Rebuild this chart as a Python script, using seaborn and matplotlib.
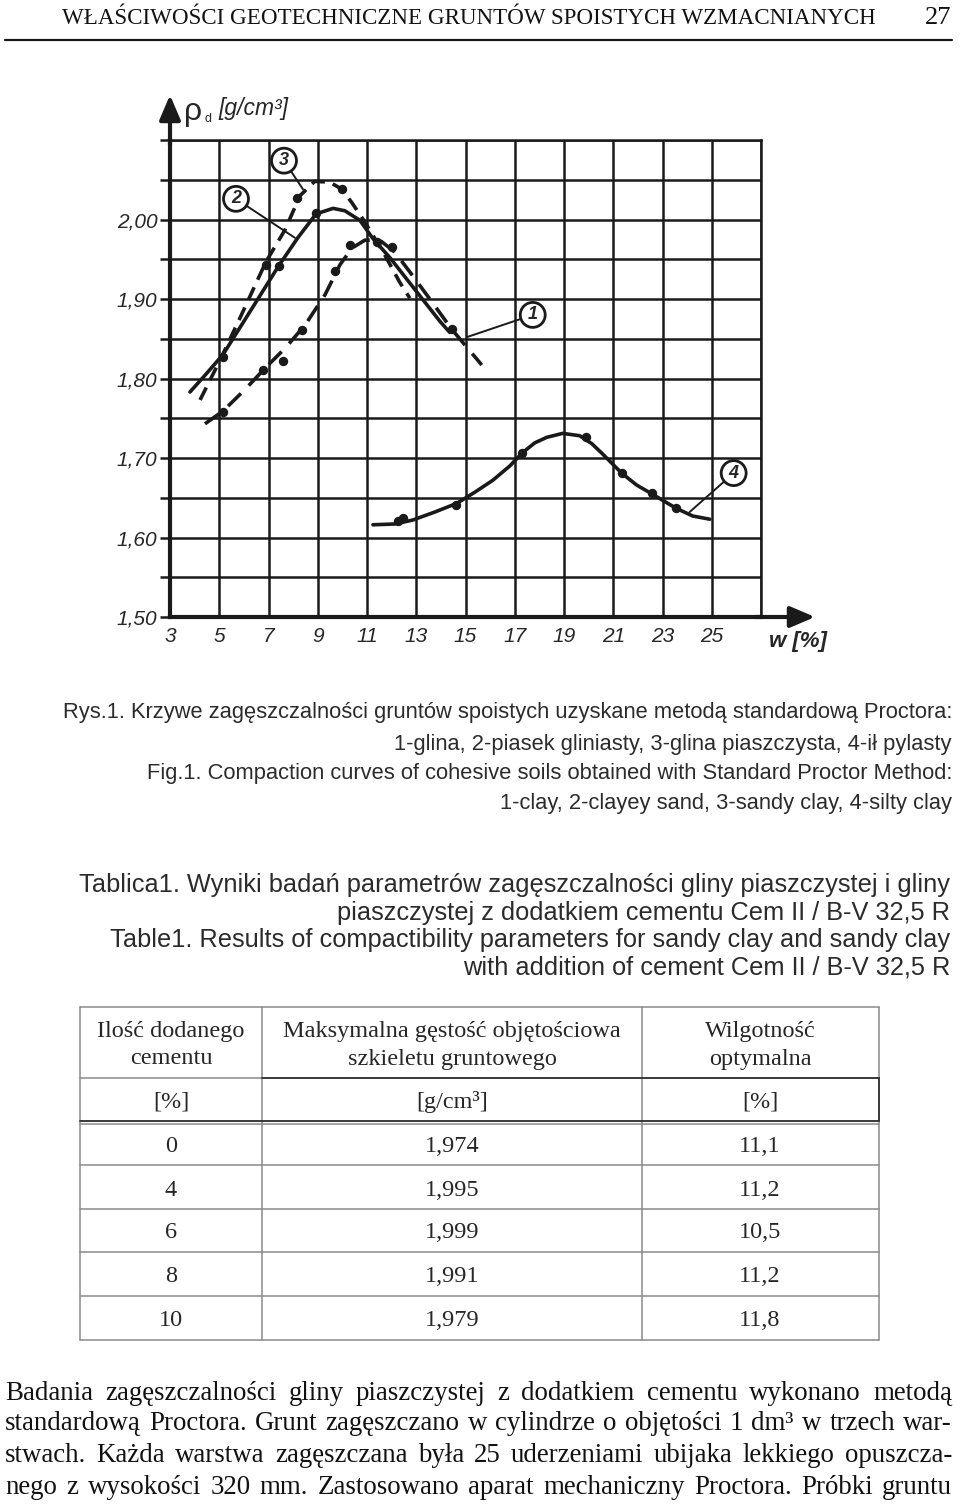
import matplotlib
matplotlib.use("Agg")
import matplotlib.pyplot as plt
import seaborn as sns
from matplotlib import font_manager
from matplotlib.lines import Line2D

# ---------------- data ----------------
w_ticks = [3, 5, 7, 9, 11, 13, 15, 17, 19, 21, 23, 25, 27]
w_tick_labels = ["3", "5", "7", "9", "11", "13", "15", "17", "19", "21", "23", "25", ""]
rho_ticks = [1.50, 1.55, 1.60, 1.65, 1.70, 1.75, 1.80, 1.85, 1.90, 1.95, 2.00, 2.05, 2.10]
rho_tick_labels = ["1,50", "", "1,60", "", "1,70", "", "1,80", "", "1,90", "", "2,00", "", ""]

# curve 1 - glina (long dashes)
c1_line_w = [4.42, 5.15, 6.04, 6.86, 7.67, 8.48, 9.29, 9.90, 10.39, 10.91, 11.52, 12.13, 12.74, 13.55, 14.44, 15.66]
c1_line_rho = [1.743, 1.759, 1.786, 1.813, 1.838, 1.867, 1.905, 1.943, 1.964, 1.974, 1.974, 1.959, 1.934, 1.900, 1.862, 1.817]
c1_pts_w = [5.15, 6.77, 7.59, 8.36, 9.70, 10.31, 12.01, 14.44]
c1_pts_rho = [1.758, 1.811, 1.822, 1.861, 1.935, 1.968, 1.965, 1.862]
# curve 2 - piasek gliniasty (solid)
c2_line_w = [3.81, 4.42, 5.15, 5.84, 6.65, 7.42, 8.19, 8.93, 9.62, 10.10, 10.71, 11.24, 11.93, 12.74, 13.96, 14.36]
c2_line_rho = [1.783, 1.804, 1.830, 1.864, 1.904, 1.942, 1.977, 2.007, 2.014, 2.011, 1.999, 1.976, 1.952, 1.920, 1.872, 1.858]
c2_pts_w = [5.15, 7.42, 8.93, 11.40]
c2_pts_rho = [1.827, 1.942, 2.008, 1.972]
# curve 3 - glina piaszczysta (dashes)
c3_line_w = [4.22, 5.03, 5.84, 6.90, 7.67, 8.28, 8.88, 9.49, 9.98, 10.39, 10.91, 11.73, 12.33, 12.74]
c3_line_rho = [1.773, 1.823, 1.876, 1.947, 1.987, 2.030, 2.048, 2.047, 2.038, 2.021, 1.997, 1.955, 1.921, 1.901]
c3_pts_w = [6.90, 8.15, 9.98]
c3_pts_rho = [1.943, 2.027, 2.038]
# curve 4 - ił pylasty (solid)
c4_line_w = [11.24, 12.13, 12.86, 13.75, 14.65, 15.38, 16.11, 16.80, 17.29, 17.81, 18.30, 18.95, 19.64,
             20.13, 20.57, 21.34, 21.95, 22.56, 23.54, 24.23, 24.92]
c4_line_rho = [1.616, 1.617, 1.622, 1.632, 1.643, 1.657, 1.672, 1.690, 1.706, 1.719, 1.726, 1.731, 1.728,
               1.718, 1.705, 1.681, 1.666, 1.655, 1.637, 1.627, 1.623]
c4_pts_w = [12.25, 12.46, 14.61, 17.29, 19.88, 21.34, 22.56, 23.54]
c4_pts_rho = [1.621, 1.625, 1.641, 1.706, 1.726, 1.681, 1.656, 1.637]

curve_ids = ["1", "2", "3", "4"]
label_w = [17.73, 5.68, 7.63, 25.89]
label_rho = [1.880, 2.026, 2.074, 1.681]
leader_w = [15.05, 8.07, 8.40, 24.10]
leader_rho = [1.852, 1.977, 2.038, 1.632]

# table
tab_head1 = ["Ilość dodanego", "Maksymalna gęstość objętościowa", "Wilgotność"]
tab_head2 = ["cementu", "szkieletu gruntowego", "optymalna"]
tab_units = ["[%]", "[g/cm³]", "[%]"]
cement = ["0", "4", "6", "8", "10"]
rho_max = ["1,974", "1,995", "1,999", "1,991", "1,979"]
w_opt = ["11,1", "11,2", "10,5", "11,2", "11,8"]

header_text = "WŁAŚCIWOŚCI GEOTECHNICZNE GRUNTÓW SPOISTYCH WZMACNIANYCH"
page_no = "27"
caption_fig = ["Rys.1. Krzywe zagęszczalności gruntów spoistych uzyskane metodą standardową Proctora:",
               "1-glina, 2-piasek gliniasty, 3-glina piaszczysta, 4-ił pylasty",
               "Fig.1. Compaction curves of cohesive soils obtained with Standard Proctor Method:",
               "1-clay, 2-clayey sand, 3-sandy clay, 4-silty clay"]
caption_tab = ["Tablica1. Wyniki badań parametrów zagęszczalności gliny piaszczystej i gliny",
               "piaszczystej z dodatkiem cementu Cem II / B-V 32,5 R",
               "Table1. Results of compactibility parameters for sandy clay and sandy clay",
               "with addition of cement Cem II / B-V 32,5 R"]
paragraph = ["Badania zagęszczalności gliny piaszczystej z dodatkiem cementu wykonano metodą",
             "standardową Proctora. Grunt zagęszczano w cylindrze o objętości 1 dm³ w trzech war-",
             "stwach. Każda warstwa zagęszczana była 25 uderzeniami ubijaka lekkiego opuszcza-",
             "nego z wysokości 320 mm. Zastosowano aparat mechaniczny Proctora. Próbki gruntu"]

# ---------------- style ----------------
sns.set_theme(style="white")
names = {f.name for f in font_manager.fontManager.ttflist}
NARROW = "Liberation Sans Narrow" in names
SANS = "Liberation Sans Narrow" if NARROW else "Liberation Sans"
SERIF = "Liberation Serif"
plt.rcParams["font.family"] = [SANS, "DejaVu Sans"]
plt.rcParams["lines.scale_dashes"] = False

W, H = 960, 1509
fig = plt.figure(figsize=(W / 100, H / 100), dpi=100)
fig.patch.set_facecolor("white")
R = fig.canvas.get_renderer()


def P(x, y):
    return x / W, 1 - y / H


def tw(s, **kw):
    t = fig.text(0, 0, s, **kw)
    w = t.get_window_extent(renderer=R).width
    t.remove()
    return w


def fit(s, target, **kw):
    return 10 * target / tw(s, fontsize=10, **kw)


# ---------------- chart ----------------
ax = fig.add_axes([170 / W, 1 - 617 / H, 591 / W, 477 / H])
ax.set_xlim(3, 27)
ax.set_ylim(1.5, 2.1)
ax.set_facecolor("white")

GLW = 1.8
ax.set_axisbelow(True)
ax.grid(True, color="k", lw=GLW)
for s in ["top", "right"]:
    ax.spines[s].set_linewidth(GLW)
    ax.spines[s].set_color("k")
for s in ["left", "bottom"]:
    ax.spines[s].set_linewidth(3.0)
    ax.spines[s].set_color("k")

lw_c = 2.6
sns.lineplot(x=c2_line_w, y=c2_line_rho, ax=ax, color="k", lw=lw_c, sort=False, estimator=None, zorder=3)
sns.lineplot(x=c4_line_w, y=c4_line_rho, ax=ax, color="k", lw=lw_c, sort=False, estimator=None, zorder=3)
sns.lineplot(x=c3_line_w, y=c3_line_rho, ax=ax, color="k", lw=lw_c, sort=False, estimator=None,
             linestyle=(0, (10, 6)), zorder=3)
sns.lineplot(x=c1_line_w, y=c1_line_rho, ax=ax, color="k", lw=lw_c, sort=False, estimator=None,
             linestyle=(0, (13, 8)), zorder=3)
for xs, ys in [(c1_pts_w, c1_pts_rho), (c2_pts_w, c2_pts_rho), (c3_pts_w, c3_pts_rho), (c4_pts_w, c4_pts_rho)]:
    sns.scatterplot(x=xs, y=ys, ax=ax, color="k", s=46, edgecolor="k", linewidth=0, zorder=4)

fs_tick = 15
ax.set_xticks(w_ticks)
ax.set_xticklabels(w_tick_labels, fontsize=fs_tick, style="italic", family=SANS)
ax.set_yticks(rho_ticks)
ax.set_yticklabels(rho_tick_labels, fontsize=fs_tick, style="italic", family=SANS)
ax.tick_params(axis="y", left=True, length=7.5, width=GLW, direction="out", pad=1.5, color="k")
ax.tick_params(axis="x", bottom=True, length=0, pad=7)
ax.set_xlabel("")
ax.set_ylabel("")

arrow_kw = dict(arrowstyle="-|>,head_length=0.75,head_width=0.32", color="k", lw=3.0,
                shrinkA=0, shrinkB=0, mutation_scale=20)
ax.annotate("", xy=(0, 1 + 45 / 477), xycoords="axes fraction", xytext=(0, 0.99),
            arrowprops=arrow_kw, annotation_clip=False)
ax.annotate("", xy=(1 + 54 / 591, 0), xycoords="axes fraction", xytext=(0.99, 0),
            arrowprops=arrow_kw, annotation_clip=False)

for cid, lx, ly, ex, ey in zip(curve_ids, label_w, label_rho, leader_w, leader_rho):
    ax.annotate(cid, xy=(ex, ey), xytext=(lx, ly), ha="center", va="center",
                fontsize=13, fontweight="bold", style="italic", family=SANS,
                bbox=dict(boxstyle="circle,pad=0.22", fc="white", ec="k", lw=2.0),
                arrowprops=dict(arrowstyle="-", color="k", lw=1.4, shrinkA=0, shrinkB=0),
                annotation_clip=False, zorder=6)

# axis titles
fig.text(*P(193, 112), "ρ", fontsize=23, family="Liberation Sans", ha="center", va="center")
fig.text(*P(208, 119), "d", fontsize=9, family=SANS, ha="center", va="center")
fig.text(*P(218, 108), "[g/cm³]", fontsize=16.5, family=SANS, style="italic", ha="left", va="center")
fig.text(*P(798, 641), "w [%]", fontsize=16, family=SANS, style="italic", fontweight="bold",
         ha="center", va="center")

# ---------------- header ----------------
fs_head = fit(header_text, 813, family=SERIF)
fig.text(*P(62, 18), header_text, fontsize=fs_head, family=SERIF, ha="left", va="center", color="#111111")
fig.text(*P(951, 18), page_no, fontsize=fs_head * 1.15, family=SERIF, ha="right", va="center", color="#111111")
fig.add_artist(Line2D([5 / W, 952 / W], [1 - 40 / H, 1 - 40 / H], color="k", lw=1.6))

# ---------------- captions ----------------
CAP_COL = "#2b2b2b"
fs_cap1 = fit(caption_fig[0], 890, family=SANS)
for s, y in zip(caption_fig, [713, 744, 773, 803]):
    fig.text(*P(952, y), s, fontsize=fs_cap1, family=SANS, ha="right", va="center", color=CAP_COL)
fs_cap2 = fit(caption_tab[0], 870, family=SANS)
for s, y in zip(caption_tab, [885, 913, 940, 968]):
    fig.text(*P(950, y), s, fontsize=fs_cap2, family=SANS, ha="right", va="center", color=CAP_COL)

# ---------------- table ----------------
GRAY = "#8a8a8a"
xl, xc1, xc2, xr = 80, 262, 642, 879
row_y = [1007, 1078, 1121, 1165, 1209, 1252, 1296, 1340]


def hline(x0, x1, y, color=GRAY, lw=1.1):
    fig.add_artist(Line2D([x0 / W, x1 / W], [1 - y / H, 1 - y / H], color=color, lw=lw))


def vline(x, y0, y1, color=GRAY, lw=1.1):
    fig.add_artist(Line2D([x / W, x / W], [1 - y0 / H, 1 - y1 / H], color=color, lw=lw))


for y in row_y:
    hline(xl, xr, y)
hline(xl, xr, 1124)
for x in [xl, xc1, xc2, xr]:
    vline(x, row_y[0], row_y[-1])
hline(xc1, xr, 1078, color="#333333", lw=1.3)
hline(xl, xr, 1121, color="#333333", lw=1.3)
vline(xr, 1078, 1121, color="#333333", lw=1.3)

fs_tab = fit(tab_head1[1], 336, family=SERIF)
centers = [171, 452, 760]
for j in range(3):
    fig.text(*P(centers[j], 1031), tab_head1[j], fontsize=fs_tab, family=SERIF, ha="center", va="center")
    fig.text(*P(centers[j], 1059), tab_head2[j], fontsize=fs_tab, family=SERIF, ha="center", va="center")
    fig.text(*P(centers[j], 1102), tab_units[j], fontsize=fs_tab, family=SERIF, ha="center", va="center")
for i, y in enumerate([1146, 1190, 1233, 1277, 1320]):
    for j, col in enumerate([cement, rho_max, w_opt]):
        fig.text(*P(centers[j], y), col[i], fontsize=fs_tab, family=SERIF, ha="center", va="center")

# ---------------- paragraph (justified) ----------------
x0, x1 = 5, 952
fs_par = min(fit(s, x1 - x0, family=SERIF) for s in paragraph) * 0.985
for s, y in zip(paragraph, [1393, 1424, 1455, 1487]):
    words = s.split(" ")
    widths = [tw(wd, fontsize=fs_par, family=SERIF) for wd in words]
    gap = (x1 - x0 - sum(widths)) / (len(words) - 1)
    x = x0
    for wd, wi in zip(words, widths):
        fig.text(*P(x, y), wd, fontsize=fs_par, family=SERIF, ha="left", va="center", color="#111111")
        x += wi + gap

fig.savefig("out.png", dpi=100, facecolor="white")
